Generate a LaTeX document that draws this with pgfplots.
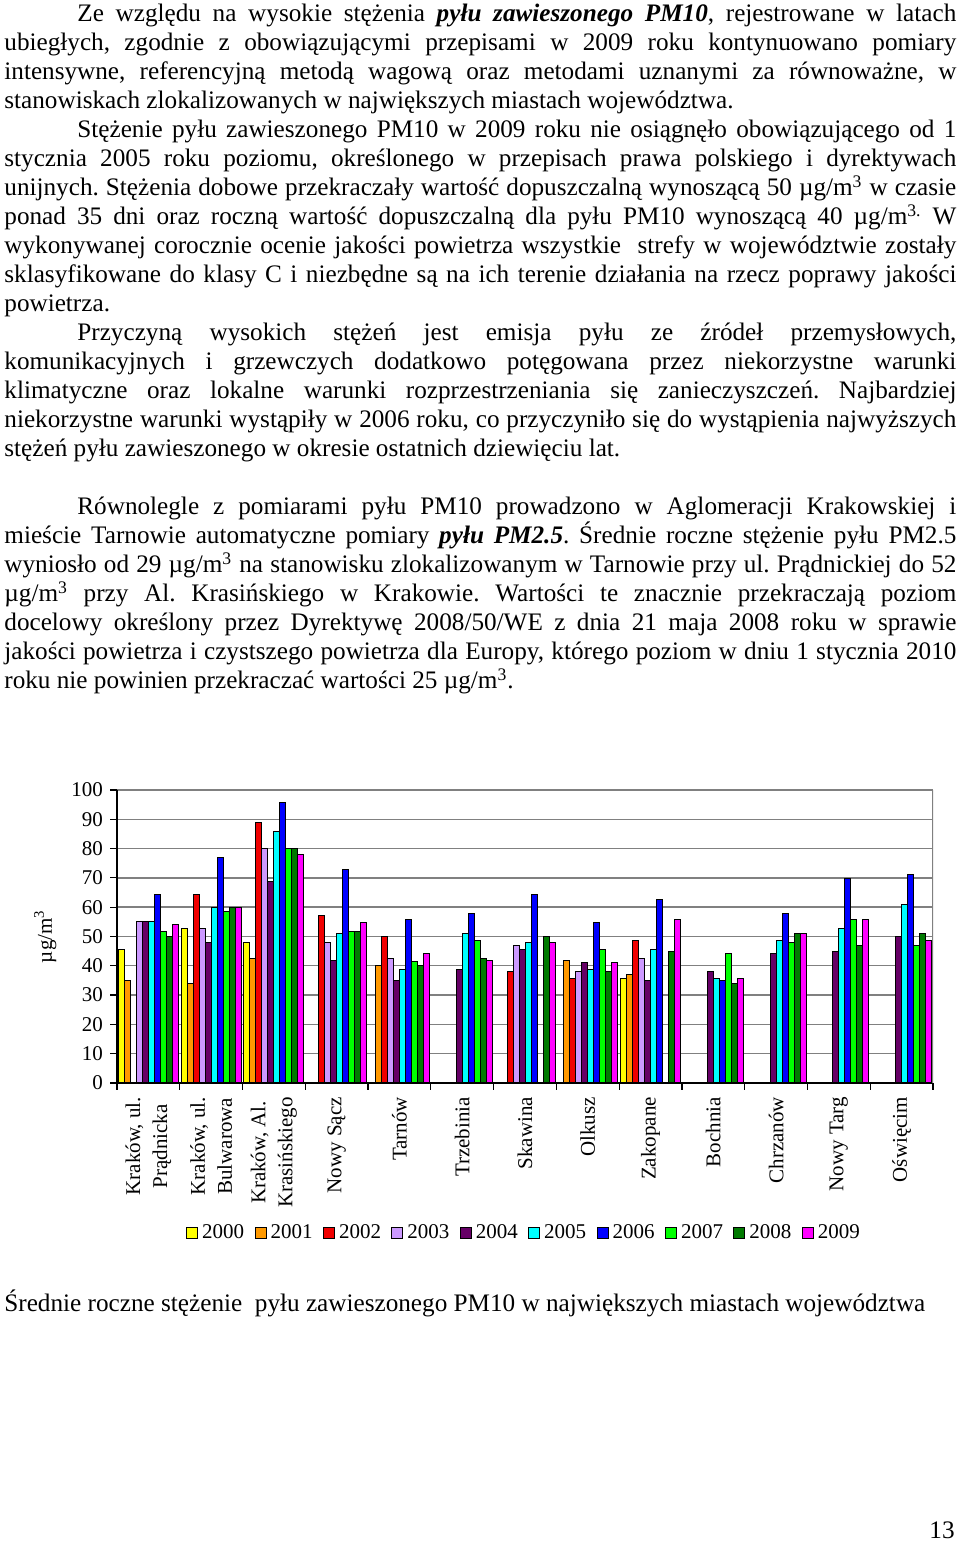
\documentclass[border=0pt]{standalone}
\usepackage{fontspec}
\setmainfont{Liberation Serif}
\usepackage{pgfplots}
\pgfplotsset{compat=1.18}
\usepackage{pgfplotstable}

\definecolor{c2000}{HTML}{FFFF00}
\definecolor{c2001}{HTML}{FF9900}
\definecolor{c2002}{HTML}{F00000}
\definecolor{c2003}{HTML}{CC99FF}
\definecolor{c2004}{HTML}{660066}
\definecolor{c2005}{HTML}{00FFFF}
\definecolor{c2006}{HTML}{0000FF}
\definecolor{c2007}{HTML}{00FF00}
\definecolor{c2008}{HTML}{007A00}
\definecolor{c2009}{HTML}{FF00FF}

% srednie roczne PM10, ug/m3 (nan = brak pomiaru)
\pgfplotstableread{
x  a2000 a2001 a2002 a2003 a2004 a2005 a2006 a2007 a2008 a2009
0  45.5  35    nan   55    55    55    64.2  51.7  50    54.2
1  52.6  34    64.2  52.6  48    60    77    58.6  60    60
2  48    42.4  89    80    68.9  86    95.8  80    80    78
3  nan   nan   57    48    41.8  51.1  72.8  51.7  51.7  54.9
4  nan   40    50    42.6  35    38.9  55.8  41.3  40    44.2
5  nan   nan   nan   nan   38.9  51.1  58    48.8  42.5  41.8
6  nan   nan   38    47    45.7  48    64.2  nan   50    48
7  nan   41.8  35.6  38    41.1  38.6  54.9  45.5  38    41.1
8  35.6  37    48.8  42.5  35    45.5  62.7  nan   44.9  55.8
9  nan   nan   nan   nan   38    35.6  35    44.2  34    35.6
10 nan   nan   nan   nan   44.2  48.6  58    48    51.1  51.1
11 nan   nan   nan   nan   44.9  52.7  69.9  55.7  47    55.8
12 nan   nan   nan   nan   50    61    71.3  47    51.1  48.6
}\pmdata

\newcommand\ug{µg/m\smash{\textsuperscript{3}}}

\begin{document}
\begin{tikzpicture}
\path[fill=white,use as bounding box] (0,0) rectangle (480pt,770.5pt);

\node[anchor=base west,inner sep=0pt] at (2pt,759.5pt) {%
\begin{minipage}[t]{476pt}
\fontsize{12.6}{14.5}\selectfont\frenchspacing
\setlength{\parindent}{36.5pt}\hyphenpenalty=10000 \tolerance=10000
Ze względu na wysokie stężenia \textbf{\textit{pyłu zawieszonego PM10}}, rejestrowane w latach\linebreak
ubiegłych, zgodnie z obowiązującymi przepisami w 2009 roku kontynuowano pomiary\linebreak
intensywne, referencyjną metodą wagową oraz metodami uznanymi za równoważne, w\linebreak
stanowiskach zlokalizowanych w największych miastach województwa.\par
Stężenie pyłu zawieszonego PM10 w 2009 roku nie osiągnęło obowiązującego od 1\linebreak
stycznia 2005 roku poziomu, określonego w przepisach prawa polskiego i dyrektywach\linebreak
unijnych. Stężenia dobowe przekraczały wartość dopuszczalną wynoszącą 50 \ug{} w czasie\linebreak
ponad 35 dni oraz roczną wartość dopuszczalną dla pyłu PM10 wynoszącą 40 µg/m\smash{\textsuperscript{3.}} W\linebreak
wykonywanej corocznie ocenie jakości powietrza wszystkie \ strefy w województwie zostały\linebreak
sklasyfikowane do klasy C i niezbędne są na ich terenie działania na rzecz poprawy jakości\linebreak
powietrza.\par
Przyczyną wysokich stężeń jest emisja pyłu ze źródeł przemysłowych,\linebreak
komunikacyjnych i grzewczych dodatkowo potęgowana przez niekorzystne warunki\linebreak
klimatyczne oraz lokalne warunki rozprzestrzeniania się zanieczyszczeń. Najbardziej\linebreak
niekorzystne warunki wystąpiły w 2006 roku, co przyczyniło się do wystąpienia najwyższych\linebreak
stężeń pyłu zawieszonego w okresie ostatnich dziewięciu lat.\par
\vspace{14.5pt}
Równolegle z pomiarami pyłu PM10 prowadzono w Aglomeracji Krakowskiej i\linebreak
mieście Tarnowie automatyczne pomiary \textbf{\textit{pyłu PM2.5}}. Średnie roczne stężenie pyłu PM2.5\linebreak
wyniosło od 29 \ug{} na stanowisku zlokalizowanym w Tarnowie przy ul. Prądnickiej do 52\linebreak
\ug{} przy Al. Krasińskiego w Krakowie. Wartości te znacznie przekraczają poziom\linebreak
docelowy określony przez Dyrektywę 2008/50/WE z dnia 21 maja 2008 roku w sprawie\linebreak
jakości powietrza i czystszego powietrza dla Europy, którego poziom w dniu 1 stycznia 2010\linebreak
roku nie powinien przekraczać wartości 25 \ug.\par
\end{minipage}};

\begin{axis}[
    at={(58.5pt,229pt)}, anchor=south west,
    scale only axis, width=408pt, height=146.5pt,
    ybar=0pt, bar width=3pt,
    xmin=-0.5, xmax=12.5, ymin=0, ymax=100,
    ytick={0,10,...,100},
    xtick={0,...,12},
    minor xtick={-0.5,0.5,...,12.5},
    xticklabels={{Kraków, ul.\\Prądnicka},{Kraków, ul.\\Bulwarowa},{Kraków, Al.\\Krasińskiego},Nowy Sącz,Tarnów,Trzebinia,Skawina,Olkusz,Zakopane,Bochnia,Chrzanów,Nowy Targ,Oświęcim},
    xticklabel style={rotate=90, anchor=east, align=center, font=\fontsize{10.5}{13.5}\selectfont},
    yticklabel style={font=\fontsize{10.5}{12}\selectfont},
    /pgf/number format/assume math mode=true,
    axis x line*=bottom, axis y line*=left,
    axis line style={black, line width=0.7pt},
    tick align=outside,
    major x tick style={draw=none},
    minor x tick style={black, line width=0.6pt},
    y tick style={black, line width=0.6pt},
    major tick length=3.5pt, minor tick length=3.5pt,
    ymajorgrids, grid style={gray, line width=0.7pt},
    ylabel={µg/m\textsuperscript{3}},
    ylabel style={at={(axis description cs:-0.088,0.5)}, anchor=center, font=\fontsize{10.5}{12}\selectfont},
    legend style={at={(0.5,-0.512)}, anchor=center, draw=none, fill=none,
        legend columns=10, font=\fontsize{10.5}{12}\selectfont,
        /tikz/every even column/.append style={column sep=3.2pt}},
    legend image code/.code={\draw[#1,draw=black,line width=0.5pt] (0pt,-2.6pt) rectangle (5.5pt,2.9pt);},
    every axis plot/.append style={draw=black, line width=0.5pt},
]
\addplot[fill=c2000] table[x=x,y=a2000] {\pmdata};
\addplot[fill=c2001] table[x=x,y=a2001] {\pmdata};
\addplot[fill=c2002] table[x=x,y=a2002] {\pmdata};
\addplot[fill=c2003] table[x=x,y=a2003] {\pmdata};
\addplot[fill=c2004] table[x=x,y=a2004] {\pmdata};
\addplot[fill=c2005] table[x=x,y=a2005] {\pmdata};
\addplot[fill=c2006] table[x=x,y=a2006] {\pmdata};
\addplot[fill=c2007] table[x=x,y=a2007] {\pmdata};
\addplot[fill=c2008] table[x=x,y=a2008] {\pmdata};
\addplot[fill=c2009] table[x=x,y=a2009] {\pmdata};
\legend{2000,2001,2002,2003,2004,2005,2006,2007,2008,2009}
\draw[gray, line width=0.7pt] (rel axis cs:1,0) -- (rel axis cs:1,1);
\end{axis}

\node[anchor=base west,inner sep=0pt,font=\fontsize{12.6}{14.5}\selectfont] at (2pt,114.5pt)
  {Średnie roczne stężenie \ pyłu zawieszonego PM10 w największych miastach województwa};
\node[anchor=base east,inner sep=0pt,font=\fontsize{12.6}{14.5}\selectfont] at (477.5pt,1.5pt) {13};
\end{tikzpicture}
\end{document}
